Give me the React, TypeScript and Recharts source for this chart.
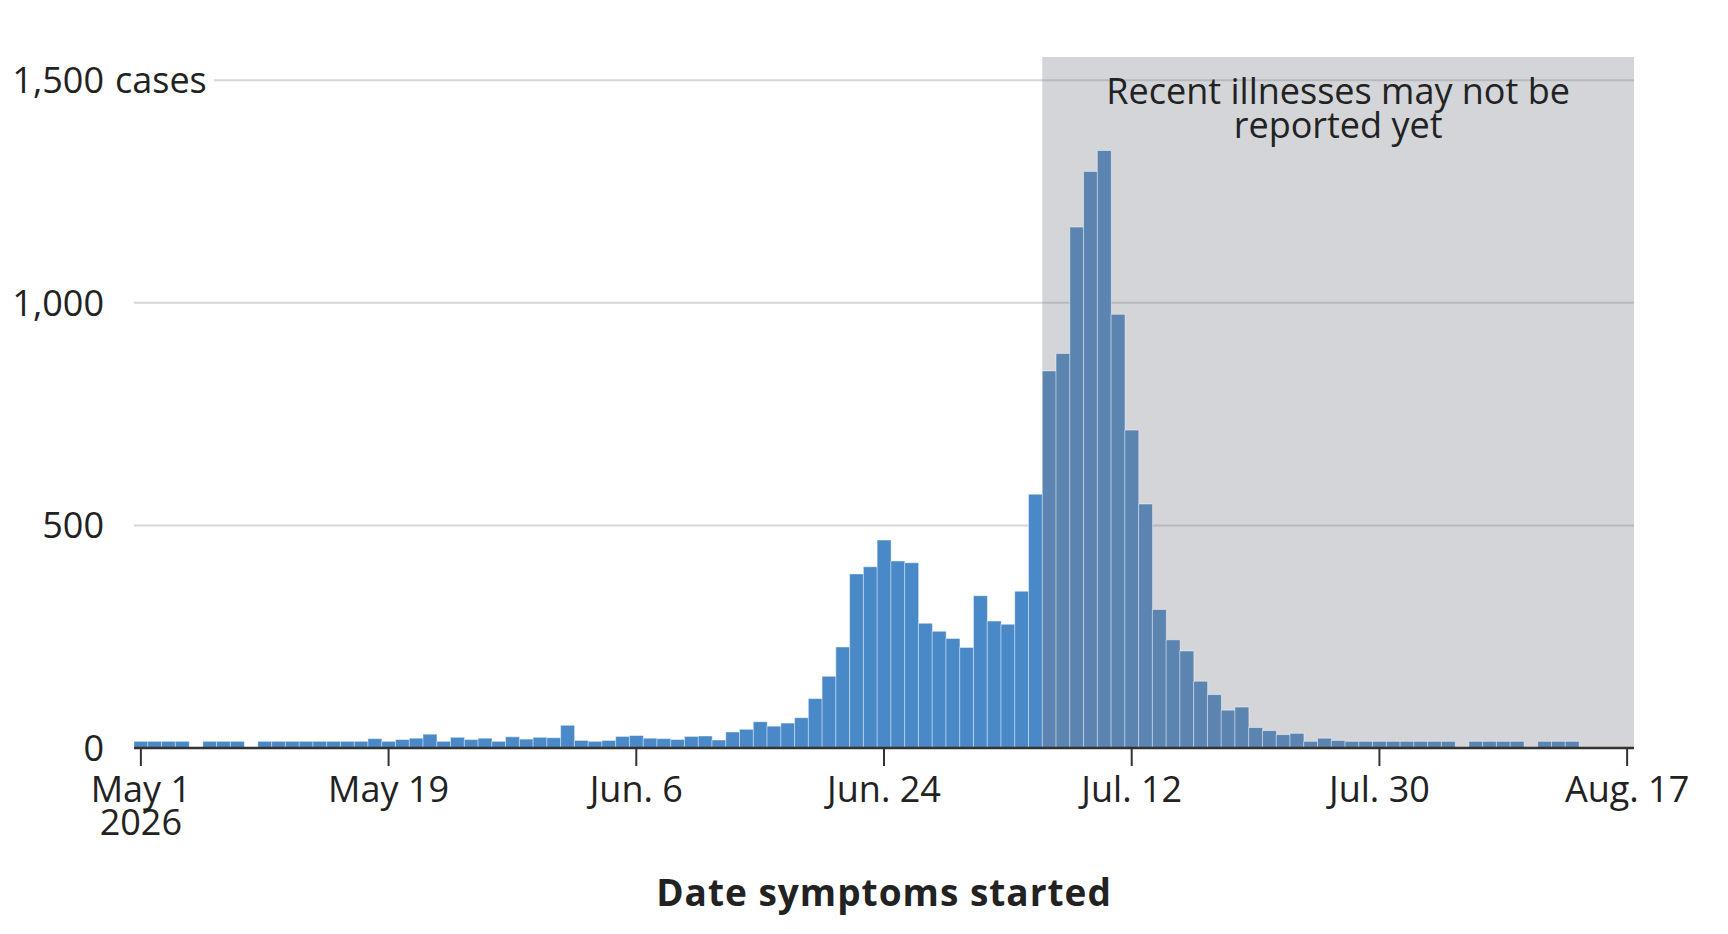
import { BarChart, Bar, Cell, XAxis, YAxis, CartesianGrid, ReferenceArea, Label } from 'recharts';

// daily counts starting May 1, 2026
const cases = [
  15, 15, 15, 15, 0, 15, 15, 15, 0, 15,
  15, 15, 15, 15, 15, 15, 15, 21, 15, 19,
  22, 31, 15, 24, 19, 22, 15, 25, 20, 24,
  23, 51, 17, 15, 17, 26, 28, 22, 21, 19,
  26, 27, 18, 36, 42, 59, 49, 56, 68, 111,
  161, 227, 391, 407, 467, 420, 416, 280, 262, 246,
  226, 342, 285, 278, 352, 570, 847, 886, 1170, 1295,
  1342, 974, 714, 548, 311, 243, 218, 150, 120, 85,
  92, 46, 39, 30, 33, 15, 22, 17, 15, 15,
  15, 15, 15, 15, 15, 15, 0, 15, 15, 15,
  15, 0, 15, 15, 15, 0, 0, 0, 0,
];

const tickLabels: Record<number, string[]> = {
  0: ['May 1', '2026'],
  18: ['May 19'],
  36: ['Jun. 6'],
  54: ['Jun. 24'],
  72: ['Jul. 12'],
  90: ['Jul. 30'],
  108: ['Aug. 17'],
};

const yTicks = [0, 500, 1000, 1500];
const yMax = 1552;
const recentFrom = 66;
const lastDay = 108;

const data = cases.map((v, i) => ({ day: i, cases: v }));

const FONT = '"Open Sans", sans-serif';
const INK = '#222';
const BLUE = '#4a89c8';
const BLUE_RECENT = '#5b84b1';

function XTick(props: any) {
  const { x, y, payload } = props;
  const lines = tickLabels[payload.value] || [];
  return (
    <text x={x} y={y} textAnchor="middle" fontFamily={FONT} fontSize={36} fill={INK}>
      {lines.map((l, i) => (
        <tspan key={i} x={x} dy={i === 0 ? '0.71em' : 33}>{l}</tspan>
      ))}
    </text>
  );
}

function YTick(props: any) {
  const { x, y, payload } = props;
  const top = payload.value === 1500;
  return (
    <g>
      {top && <rect x={x} y={y - 4} width={110} height={8} fill="#fff" />}
      <text x={x} y={y} dy="0.355em" textAnchor="end" fontFamily={FONT} fontSize={36} fill={INK}>
        {payload.value.toLocaleString('en-US')}
      </text>
      {top && (
        <text x={x + 11} y={y} dy="0.355em" textAnchor="start" fontFamily={FONT} fontSize={36} fill={INK}>
          cases
        </text>
      )}
    </g>
  );
}

function Note(props: any) {
  const { viewBox } = props;
  const cx = viewBox.x + viewBox.width / 2;
  return (
    <text x={cx} y={viewBox.y + 47} textAnchor="middle" fontFamily={FONT} fontSize={36} fill={INK}>
      <tspan x={cx}>Recent illnesses may not be</tspan>
      <tspan x={cx} dy={34}>reported yet</tspan>
    </text>
  );
}

// only the value ticks, no line along the top of the plot
const gridRows = ({ offset }: any) =>
  yTicks.map((t) => offset.top + offset.height * (1 - t / yMax));

export default function App() {
  return (
    <div style={{ position: 'absolute', left: 0, top: 0, background: '#fff' }}>
      <style>{'body{margin:0;overflow:hidden}'}</style>
      <BarChart
        width={1728}
        height={934}
        data={data}
        margin={{ top: 57, right: 94, bottom: 0, left: 0 }}
        barCategoryGap={0}
        barGap={0}
        style={{ fontFamily: FONT }}
      >
        <CartesianGrid
          vertical={false}
          stroke="#d6d6d6"
          strokeWidth={2}
          horizontalCoordinatesGenerator={gridRows}
        />
        {/* translucent so the grid rows still show through, darker */}
        <ReferenceArea
          x1={recentFrom}
          x2={lastDay}
          fill="#7a7d87"
          fillOpacity={0.324}
          stroke="none"
          label={<Note />}
        />
        <XAxis
          dataKey="day"
          interval={17}
          height={186}
          tick={<XTick />}
          tickSize={18}
          tickMargin={10}
          axisLine={{ stroke: '#333', strokeWidth: 2.5 }}
          tickLine={{ stroke: '#333', strokeWidth: 2 }}
        >
          <Label
            value="Date symptoms started"
            position="insideBottom"
            offset={28}
            fontFamily={FONT}
            fontSize={37}
            fontWeight={700}
            letterSpacing={1}
            fill={INK}
          />
        </XAxis>
        <YAxis
          type="number"
          domain={[0, yMax]}
          ticks={yTicks}
          width={134}
          tick={<YTick />}
          tickSize={0}
          tickMargin={30}
          axisLine={false}
          tickLine={false}
        />
        <Bar
          dataKey="cases"
          fill={BLUE}
          stroke="#ffffff"
          strokeOpacity={0.45}
          strokeWidth={1}
          isAnimationActive={false}
        >
          {data.map((d) => (
            <Cell key={d.day} fill={d.day >= recentFrom ? BLUE_RECENT : BLUE} />
          ))}
        </Bar>
      </BarChart>
    </div>
  );
}
